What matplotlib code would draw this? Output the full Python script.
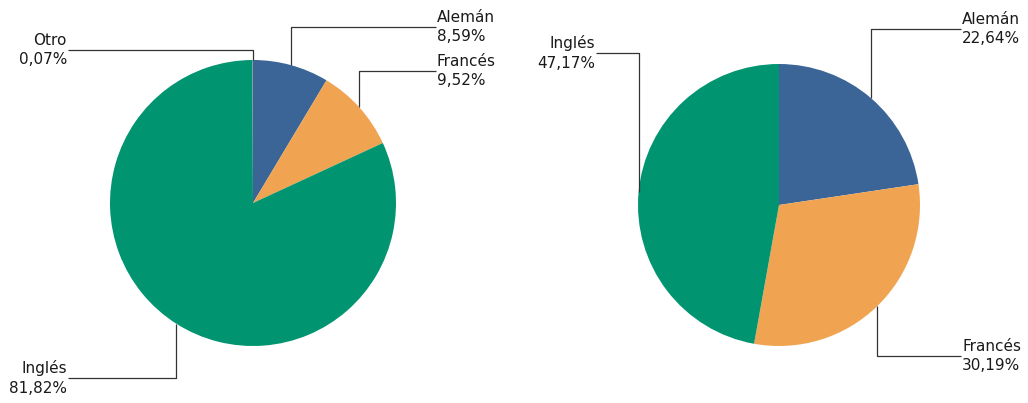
import numpy as np
import matplotlib
matplotlib.use("Agg")
import matplotlib.pyplot as plt

plt.rcParams["font.family"] = ["DejaVu Sans"]

# --- data ---
langs_left = ["Alemán", "Francés", "Inglés", "Otro"]
pct_left = [8.59, 9.52, 81.82, 0.07]

langs_right = ["Alemán", "Francés", "Inglés"]
pct_right = [22.64, 30.19, 47.17]

colors = {"Alemán": "#3a6596", "Francés": "#f0a452", "Inglés": "#009570", "Otro": "#7f7f7f"}

W, H = 1028, 403


def fmt(v):
    return f"{v:.2f}".replace(".", ",") + "%"


fig = plt.figure(figsize=(W / 100, H / 100), dpi=100, facecolor="white")
ax = fig.add_axes([0, 0, 1, 1])


def draw_pie(center, radius, labels, values, layout):
    cx, cy = center[0], H - center[1]
    wedges, _ = ax.pie(values, colors=[colors[l] for l in labels], startangle=90,
                       counterclock=False, center=(cx, cy), radius=radius,
                       wedgeprops=dict(linewidth=0))
    for w, lab, val in zip(wedges, labels, values):
        ang = np.deg2rad((w.theta1 + w.theta2) / 2)
        px = cx + radius * np.cos(ang)
        py = cy + radius * np.sin(ang)
        ly, lx = layout[lab]
        ly = H - ly
        ax.plot([px, px, lx], [py, ly, ly], color="#333333", lw=0.9,
                solid_capstyle="butt", zorder=3)
        ha = "left" if lx > px else "right"
        tx = lx + 1 if ha == "left" else lx - 1
        ax.text(tx, ly, f"{lab}\n{fmt(val)}", ha=ha, va="center",
                multialignment=ha, fontsize=11, color="#1a1a1a",
                linespacing=1.38)


# label line (y, x end) in pixel coordinates
draw_pie((253, 203), 143, langs_left, pct_left,
         {"Alemán": (27, 436), "Francés": (71, 436),
          "Inglés": (378, 68), "Otro": (50, 68)})
draw_pie((779, 205), 141, langs_right, pct_right,
         {"Alemán": (29, 961), "Francés": (356, 961), "Inglés": (53, 596)})

ax.set_xlim(0, W)
ax.set_ylim(0, H)
ax.set_aspect("auto")
ax.set_axis_off()

plt.savefig("out.png", dpi=100, facecolor="white")
plt.close()
